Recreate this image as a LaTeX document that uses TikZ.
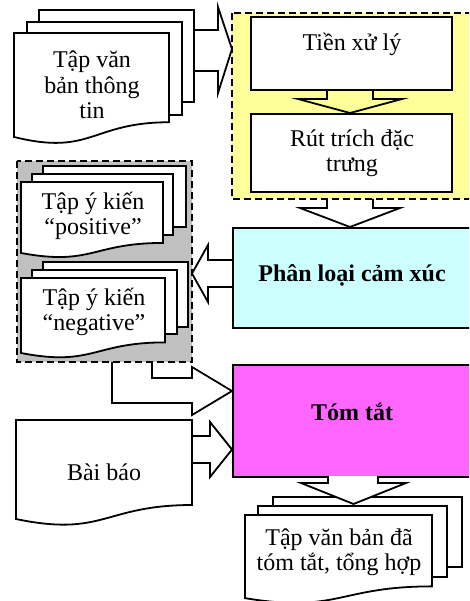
\documentclass[tikz,border=0pt]{standalone}
\usepackage{fontspec}
\setmainfont{Liberation Serif}
\definecolor{yel}{HTML}{FFFF99}
\definecolor{cya}{HTML}{CCFFFF}
\definecolor{mag}{HTML}{FF66FF}
\definecolor{gry}{HTML}{C0C0C0}
\newcommand{\docshape}[4]{\draw[docst] (#1,#2) -- ({#1+#3},#2) -- ({#1+#3},{#2+0.802*#4}) .. controls ({#1+#3/2},{#2+0.802*#4}) and ({#1+#3/2},{#2+1.1075*#4}) .. (#1,{#2+0.934*#4}) -- cycle;}
\newcommand{\sheet}[4]{\draw[docst] (#1,#2) rectangle (#3,#4);}
\tikzset{
  ln/.style={line width=1.8pt, line join=miter},
  docst/.style={ln, fill=white},
  dashbox/.style={line width=1.6pt, dash pattern=on 7pt off 4pt},
  procbox/.style={ln, draw, fill=white, inner sep=0pt},
  fat/.style={ln, line join=miter},
  txt/.style={align=center, inner sep=0pt, font=\fontsize{24}{25.5}\selectfont},
  btxt/.style={txt, font=\fontsize{24}{25.5}\selectfont\bfseries}
}
\begin{document}
\begin{tikzpicture}[x=1pt,y=-1pt]
\clip (0,0) rectangle (469,601);
\fill[white] (0,0) rectangle (469,601);
% yellow group
\draw[dashbox, fill=yel] (232,13) rectangle (485,199);
\node[procbox, minimum width=201pt, minimum height=73pt] (tienbox) at (351.5,53.5) {};
\node[txt] (tien) at (352,44) {Tiền xử lý};
\node[procbox, minimum width=201pt, minimum height=78pt] (rutbox) at (351.5,153) {};
\node[txt] (rut) at (352,153) {Rút trích đặc\\trưng};
% cyan
\node[procbox, fill=cya, minimum width=253pt, minimum height=100pt, anchor=north west] (phanbox) at (232,227) {};
\node[btxt] (phan) at (352,275) {Phân loại cảm xúc};
% magenta
\node[procbox, fill=mag, minimum width=253pt, minimum height=112pt, anchor=north west] (tombox) at (232,364) {};
\node[btxt] (tom) at (352,412) {Tóm tắt};
% gray group
\draw[dashbox, fill=gry] (17,161) rectangle (192,362);
% top-left multi document
\sheet{39}{10}{194}{102}
\sheet{27}{22}{182}{115}
\docshape{14}{33}{155}{111.3}
\node[txt] (tap) at (92,85) {Tập văn\\bản thông\\tin};
% positive
\sheet{43}{166}{186}{227}
\sheet{32}{174}{173}{235}
\docshape{21}{182}{142}{76}
\node[txt] (pos) at (93,216) {Tập ý kiến\\“positive”};
% negative
\sheet{43}{262}{188}{327}
\sheet{32}{270}{177}{334}
\docshape{21}{278}{144}{80.3}
\node[txt] (neg) at (94,312) {Tập ý kiến\\“negative”};
% Bai bao
\docshape{16}{420}{176}{106}
\node[txt] (bai) at (104,472) {Bài báo};
% output
\sheet{273}{497}{462}{567}
\sheet{258}{506}{447}{577}
\docshape{245}{515}{187}{89}
\node[txt] (out) at (339,552) {Tập văn bản đã\\tóm tắt, tổng hợp};
% fat arrows
\draw[fat] (194,30) -- (218,30) -- (218,7) -- (232,49) -- (218,93) -- (218,71) -- (194,71);
\draw[fat] (327,90) -- (327,99) -- (298,99) -- (350,113) -- (402,99) -- (373,99) -- (373,90);
\draw[fat] (327,199) -- (327,208) -- (300,208) -- (350,227) -- (400,208) -- (373,208) -- (373,199);
\draw[fat] (232,260) -- (208,260) -- (208,245) -- (192,273.5) -- (208,302) -- (208,287) -- (232,287);
\draw[fat] (112,362) -- (112,403) -- (192,403) -- (192,415) -- (232,391) -- (192,367) -- (192,378) -- (152,378) -- (152,362);
\draw[fat] (192,436) -- (210,436) -- (210,422) -- (232,449.5) -- (210,477) -- (210,463) -- (192,463);
\draw[fat,fill=white] (328,476) -- (328,483) -- (301,483) -- (353.5,504) -- (406,483) -- (378,483) -- (378,476);
\end{tikzpicture}
\end{document}
